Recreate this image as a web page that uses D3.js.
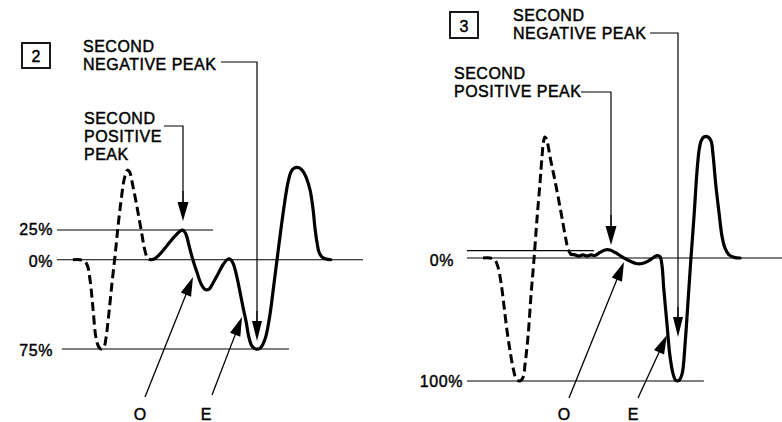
<!DOCTYPE html>
<html><head><meta charset="utf-8">
<script src="https://cdn.jsdelivr.net/npm/d3@7/dist/d3.min.js"></script>
<style>
html,body{margin:0;padding:0;background:#fff;}
svg text{font-family:"Liberation Sans",Arial,Helvetica,sans-serif;fill:#000;}
</style></head>
<body><svg id="c" width="782" height="422"></svg>
<script>
// ---- data: time (arbitrary units, 0..100 across baseline) , amplitude (%) ----
const panel2Dashed = [[5.2,0],[7.5,0],[8.8,-1],[9.8,-4],[10.8,-17],[11.8,-42],[12.7,-65],[13.6,-73],[14.4,-75],[15.4,-73],[16.0,-66],[17.0,-44],[18.0,-19],[19.0,4],[19.9,27],[20.9,49],[21.9,67],[22.6,73.5],[23.1,75.5],[23.7,74],[24.8,62],[26.1,45],[27.5,25],[28.8,7],[29.7,1],[30.7,0]];
const panel2Solid = [[30.7,0],[32.0,1],[33.7,5],[36.3,13],[38.6,20],[40.2,24],[41.2,24.8],[42.2,21],[43.1,12.4],[44.4,0],[45.8,-11],[47.1,-20.4],[48.4,-25],[49.7,-24.6],[51.0,-19.5],[52.6,-12],[54.2,-4.4],[55.6,0],[56.5,0.6],[57.5,-2.7],[58.8,-14.5],[59.8,-27],[60.8,-40],[61.8,-52],[62.7,-65],[63.7,-72.5],[65.0,-75],[66.3,-74.5],[67.3,-71],[68.3,-64],[69.6,-46],[70.6,-26.5],[71.9,0],[73.2,26],[74.5,50],[75.5,65],[76.5,74],[77.5,77],[78.8,77.5],[80.1,75.4],[81.4,69.5],[82.7,58.6],[83.7,42],[84.3,26.7],[85.0,14],[85.6,6.5],[86.6,2.3],[87.9,0.6],[89.5,0]];
const panel3Dashed = [[5.1,0],[7.3,0],[8.9,-2],[9.8,-7],[10.8,-20],[11.7,-38],[12.7,-59],[13.7,-76],[14.6,-89],[15.6,-98],[16.7,-100],[17.8,-97],[18.4,-87],[19.4,-63],[20.3,-31],[21.3,0],[22.2,31],[23.2,62],[23.8,82],[24.2,93],[24.7,98.4],[25.2,97],[25.7,92],[26.3,83],[27.6,67],[28.9,50],[30.2,32],[31.4,15],[32.1,7],[33.0,3]];
const panel3Solid = [[33.0,3],[34.3,2.5],[35.6,1.5],[36.8,2.5],[38.1,1.5],[39.4,2.5],[40.6,2],[42.2,4.5],[43.8,6.5],[45.4,6.5],[47.0,4.5],[48.6,2],[50.2,-0.5],[51.7,-2.5],[53.7,-4.5],[55.6,-4.5],[57.5,-2.5],[59.0,0],[60.3,2],[61.3,1],[61.9,-6],[62.5,-26],[63.5,-54],[64.4,-79],[65.4,-94],[66.3,-99.5],[67.3,-99.5],[68.3,-94],[69.2,-71],[70.2,-34],[71.1,0],[72.1,35],[73.0,70],[73.7,88],[74.3,95],[75.2,98.4],[76.5,98.4],[77.5,95],[78.1,84],[79.0,59],[80.0,37],[81.0,17],[81.9,8],[83.2,2.5],[84.8,0.5],[86.7,0]];

// reference levels: [label, value, start t, end t]
const panel2Levels = [["25%",25,0,51],["0%",0,0,100],["75%",-75,1.6,75.8]];
const panel3Levels = [["",6,0,40.3],["0%",0,0,100],["100%",-100,0,75.2]];

const panel2Title = "2", panel3Title = "3";
const negPeakLabel = ["SECOND","NEGATIVE PEAK"];
const panel2PosLabel = ["SECOND","POSITIVE","PEAK"];
const panel3PosLabel = ["SECOND","POSITIVE PEAK"];
const rayLabels = ["O","E"];

const svg = d3.select("#c");
const FS = 16;

function arrow(g, x1, y1, x2, y2, len, hw, sw) {
  const dx = x2 - x1, dy = y2 - y1, L = Math.hypot(dx, dy);
  const ux = dx / L, uy = dy / L;
  const bx = x2 - ux * len, by = y2 - uy * len;
  g.append("line").attr("x1", x1).attr("y1", y1).attr("x2", bx + ux*2).attr("y2", by + uy*2)
    .attr("stroke", "#000").attr("stroke-width", sw);
  g.append("path").attr("d", `M${x2},${y2}L${bx - uy*hw},${by + ux*hw}L${bx + uy*hw},${by - ux*hw}Z`).attr("fill", "#000");
}
function textLines(g, lines, x, y0, dy, anchor) {
  lines.forEach((s, i) => g.append("text").attr("x", x).attr("y", y0 + i*dy)
    .attr("font-size", FS).attr("letter-spacing", "0.5px").attr("text-anchor", anchor || "start")
    .attr("stroke", "#000").attr("stroke-width", 0.45).text(s));
}

function panel(cfg) {
  const g = svg.append("g");
  const x = d3.scaleLinear().domain([0, 100]).range(cfg.xr);
  const y = d3.scaleLinear().domain(cfg.yd).range(cfg.yr);
  // reference lines
  cfg.levels.forEach((d, i) => {
    g.append("line").attr("x1", x(d[2])).attr("x2", x(d[3])).attr("y1", y(d[1])).attr("y2", y(d[1]))
      .attr("stroke", "#000").attr("stroke-width", 1.2);
    if (d[0]) g.append("text").attr("x", cfg.labelX[i]).attr("y", y(d[1]) + cfg.labelDy[i])
      .attr("text-anchor", "end").attr("font-size", FS).attr("letter-spacing", "0.6px")
      .attr("stroke", "#000").attr("stroke-width", 0.4).text(d[0]);
  });
  const line = d3.line().x(d => x(d[0])).y(d => y(d[1])).curve(d3.curveCatmullRom.alpha(0.5));
  g.append("path").attr("d", line(cfg.dashed)).attr("fill", "none").attr("stroke", "#000")
    .attr("stroke-width", 3).attr("stroke-dasharray", "9,4.5").attr("stroke-linecap", "butt");
  g.append("path").attr("d", line(cfg.solid)).attr("fill", "none").attr("stroke", "#000")
    .attr("stroke-width", 3.2).attr("stroke-linejoin", "round").attr("stroke-linecap", "round");
  // title box
  const b = cfg.box;
  g.append("rect").attr("x", b[0]).attr("y", b[1]).attr("width", b[2]).attr("height", b[3])
    .attr("fill", "none").attr("stroke", "#000").attr("stroke-width", 1.8);
  g.append("text").attr("x", b[0] + b[2]/2).attr("y", b[1] + b[3] - 6).attr("text-anchor", "middle")
    .attr("font-size", FS).attr("stroke", "#000").attr("stroke-width", 0.45).text(cfg.title);
  // labels with leaders
  const n = cfg.neg;
  textLines(g, negPeakLabel, n.tx, n.ty, 17.5);
  g.append("polyline").attr("points", `${n.lx0},${n.ly} ${n.ax},${n.ly} ${n.ax},${n.tip - 18}`)
    .attr("fill", "none").attr("stroke", "#000").attr("stroke-width", 1.2);
  arrow(g, n.ax, n.tip - 30, n.ax, n.tip, 20, 5, 1.2);
  const p = cfg.pos;
  textLines(g, cfg.posLabel, p.tx, p.ty, 18);
  g.append("polyline").attr("points", `${p.lx0},${p.ly} ${p.ax},${p.ly} ${p.ax},${p.tip - 18}`)
    .attr("fill", "none").attr("stroke", "#000").attr("stroke-width", 1.2);
  arrow(g, p.ax, p.tip - 30, p.ax, p.tip, 19, 5.5, 1.2);
  // O and E rays
  cfg.rays.forEach((r, i) => {
    arrow(g, r[0], r[1], r[2], r[3], 19, 5.5, 1.3);
    g.append("text").attr("x", r[4]).attr("y", 420).attr("text-anchor", "middle")
      .attr("font-size", FS).attr("stroke", "#000").attr("stroke-width", 0.45).text(rayLabels[i]);
  });
}

panel({
  xr: [57, 363], yd: [-75, 25], yr: [349, 230],
  levels: panel2Levels, labelX: [53, 53, 53], labelDy: [4.5, 7, 6.5],
  dashed: panel2Dashed, solid: panel2Solid,
  box: [22, 43, 28, 25], title: panel2Title,
  neg: {tx: 83, ty: 52, lx0: 221, ly: 62, ax: 257, tip: 341},
  pos: {tx: 84, ty: 124, lx0: 164, ly: 126, ax: 183, tip: 221}, posLabel: panel2PosLabel,
  rays: [[145, 397, 193, 277, 140], [212, 395, 242, 317, 206]]
});
panel({
  xr: [467, 782], yd: [-100, 0], yr: [381, 258],
  levels: panel3Levels, labelX: [0, 454, 463], labelDy: [0, 8, 6],
  dashed: panel3Dashed, solid: panel3Solid,
  box: [450, 12, 28, 26], title: panel3Title,
  neg: {tx: 513, ty: 21, lx0: 650, ly: 33, ax: 678, tip: 337},
  pos: {tx: 454, ty: 79, lx0: 581, ly: 92, ax: 611, tip: 245}, posLabel: panel3PosLabel,
  rays: [[569, 398, 624, 262, 564], [638, 398, 667, 335, 633]]
});
</script></body></html>
